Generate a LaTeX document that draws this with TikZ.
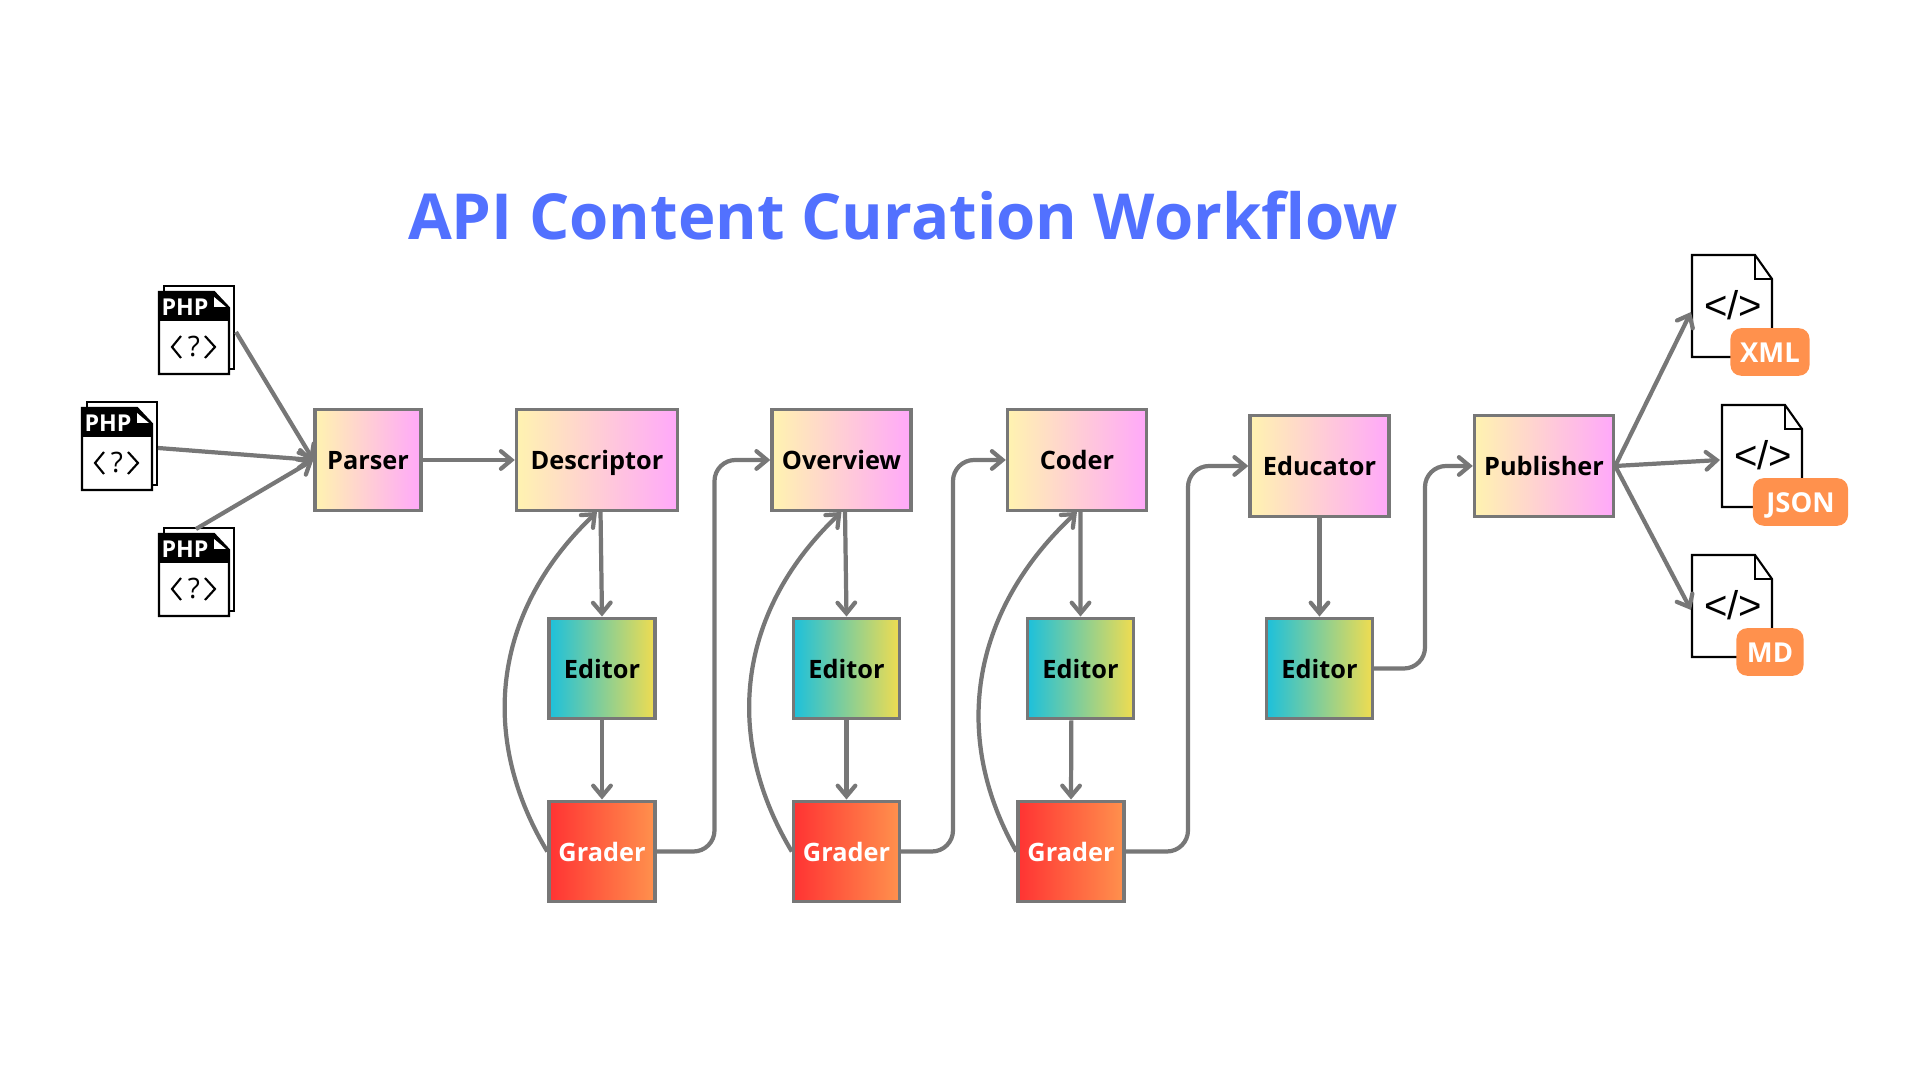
\documentclass[tikz,border=0pt]{standalone}
\usepackage{fontspec}
\setmainfont{Open Sans}
\usepackage{tikz}
\usetikzlibrary{positioning, calc, arrows.meta}

\definecolor{linegray}{HTML}{777777}
\definecolor{titleblue}{HTML}{5271FF}
\definecolor{tagorange}{HTML}{FF914D}

\tikzset{
	flowbox/.style = {draw=linegray, line width = 0.95pt, inner sep = 0pt, text height = 5.6pt, text depth = 0pt, font=\fontsize{7.2}{9}\selectfont\bfseries, text=black},
	agentbox/.style = {flowbox, left color={rgb,255:red,255;green,243;blue,176}, right color={rgb,255:red,255;green,168;blue,250}, minimum height = 1.005cm},
	editorbox/.style = {flowbox, left color={rgb,255:red,28;green,192;blue,220}, right color={rgb,255:red,240;green,220;blue,80}, minimum width = 1.06cm, minimum height = 1.005cm},
	graderbox/.style = {flowbox, text=white, left color={rgb,255:red,255;green,51;blue,51}, right color={rgb,255:red,255;green,145;blue,77}, minimum width = 1.06cm, minimum height = 1.005cm},
	flow/.style = {draw=linegray, line width = 1.2pt, -{Straight Barb[length=3pt, width=5pt, line cap=round]}},
	tag/.style = {fill=tagorange, rounded corners=3pt, text=white, inner sep=0pt, minimum height=0.475cm, text height = 6pt, text depth = 0pt, font=\fontsize{7.8}{9}\selectfont\bfseries},
	php/.pic = {
		\draw[black, line width = 0.65pt, fill=white] (5,-6) rectangle (75,77);
		\draw[black, line width = 0.65pt, fill=white] (0,0) -- (55,0) -- (70,16) -- (70,82) -- (0,82) -- cycle;
		\fill[black] (0,0) -- (55,0) -- (70,16) -- (70,29) -- (0,29) -- cycle;
		\fill[white] (55,5) -- (55,15) -- (67,15) -- cycle;
		\node[white, inner sep=0pt, font=\fontsize{6.6}{8}\selectfont\bfseries] at (26,15) {PHP};
		\draw[black, line width = 0.6pt] (22,44) -- (13,55) -- (22,66);
		\draw[black, line width = 0.6pt] (46,44) -- (56,55) -- (46,66);
		\node[black, inner sep=0pt, font=\fontsize{8}{9}\selectfont] at (35,55) {?};
	},
	codesheet/.pic = {
		\draw[black, line width = 0.6pt, fill=white] (0,0) -- (63,0) -- (80,24) -- (80,102) -- (0,102) -- cycle;
		\draw[black, line width = 0.6pt] (63,0) -- (63,24) -- (80,24);
		\node[black, inner sep=0pt, font=\fontsize{11.4}{13}\fontspec{Liberation Sans}] at (41,50) {</>};
	}
}

\begin{document}
\begin{tikzpicture}[x=0.01cm, y=-0.01cm]
	\useasboundingbox (0,0) rectangle (1920,1080);

	\node[font=\fontsize{18.05}{21}\selectfont\bfseries, text=titleblue] (title) at (903,216) {API Content Curation Workflow};

	\pic at (159,292) {php};
	\pic at (82,408) {php};
	\pic at (159,534) {php};
	\coordinate (phpa) at (236,332);
	\coordinate (phpb) at (158,448);
	\coordinate (phpc) at (196,529);

	\node[agentbox, minimum width = 1.06cm] (parser) at (368,460) {Parser};
	\node[agentbox, minimum width = 1.61cm] (descriptor) at (597,460) {Descriptor};
	\node[agentbox, minimum width = 1.39cm] (overview) at (841.5,460) {Overview};
	\node[agentbox, minimum width = 1.39cm] (coder) at (1077,460) {Coder};
	\node[agentbox, minimum width = 1.39cm] (educator) at (1319.5,466) {Educator};
	\node[agentbox, minimum width = 1.39cm] (publisher) at (1544,466) {Publisher};

	\node[editorbox] (editora) at (602,668.5) {Editor};
	\node[editorbox] (editorb) at (846.5,668.5) {Editor};
	\node[editorbox] (editorc) at (1080.5,668.5) {Editor};
	\node[editorbox] (editord) at (1319.5,668.5) {Editor};

	\node[graderbox] (gradera) at (602,851.5) {Grader};
	\node[graderbox] (graderb) at (846.5,851.5) {Grader};
	\node[graderbox] (graderc) at (1071,851.5) {Grader};

	\pic at (1692,255) {codesheet};
	\pic at (1722,405) {codesheet};
	\pic at (1692,555) {codesheet};
	\node[tag, minimum width = 0.79cm] (xml) at (1770,352) {XML};
	\node[tag, minimum width = 0.95cm] (json) at (1800.5,502) {JSON};
	\node[tag, minimum width = 0.67cm] (md) at (1770,652) {MD};
	\coordinate (xmlin) at (1691,312);
	\coordinate (jsonin) at (1720,460);
	\coordinate (mdin) at (1691,610);

	\coordinate (benda) at (714.5,0);
	\coordinate (bendb) at (953,0);
	\coordinate (bendc) at (1188,0);
	\coordinate (bendd) at (1425,0);

	\draw[flow] (phpa) -- (parser.west);
	\draw[flow] (phpb) -- (parser.west);
	\draw[flow] (phpc) -- (parser.west);
	\draw[flow] (parser) -- (descriptor);

	\draw[flow] ([xshift=1pt]descriptor.south) -- (editora.north);
	\draw[flow] (editora) -- (gradera);
	\draw[flow] (gradera.west) .. controls +(-72,-120) and +(-100,95) .. (descriptor.south);
	\draw[flow, rounded corners=6pt] (gradera.east) -- (gradera.east -| benda) -- (overview.west -| benda) -- (overview.west);

	\draw[flow] ([xshift=1pt]overview.south) -- (editorb.north);
	\draw[flow] (editorb) -- (graderb);
	\draw[flow] (graderb.west) .. controls +(-72,-120) and +(-100,95) .. (overview.south);
	\draw[flow, rounded corners=6pt] (graderb.east) -- (graderb.east -| bendb) -- (coder.west -| bendb) -- (coder.west);

	\draw[flow] ([xshift=1pt]coder.south) -- (editorc.north);
	\draw[flow] ([xshift=-2.6pt]editorc.south) -- (graderc.north);
	\draw[flow] (graderc.west) .. controls +(-68,-120) and +(-102,95) .. (coder.south);
	\draw[flow, rounded corners=6pt] (graderc.east) -- (graderc.east -| bendc) -- (educator.west -| bendc) -- (educator.west);

	\draw[flow] (educator) -- (editord);
	\draw[flow, rounded corners=6pt] (editord.east) -- (editord.east -| bendd) -- (publisher.west -| bendd) -- (publisher.west);

	\draw[flow] (publisher.east) -- (xmlin);
	\draw[flow] (publisher.east) -- (jsonin);
	\draw[flow] (publisher.east) -- (mdin);
\end{tikzpicture}
\end{document}
